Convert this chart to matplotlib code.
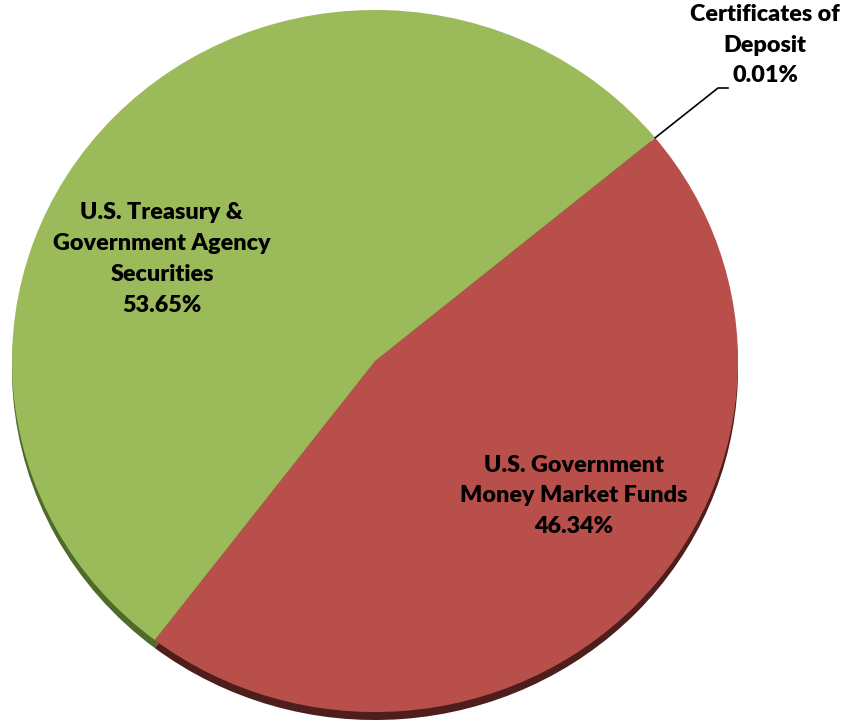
import numpy as np
import matplotlib.pyplot as plt

# portfolio mix
labels = ["Certificates of\nDeposit", "U.S. Government\nMoney Market Funds",
          "U.S. Treasury &\nGovernment Agency\nSecurities"]
values = [0.01, 46.34, 53.65]
colors = ["#9BBB59", "#B94F4B", "#9BBA5A"]
dark = ["#4F6B2A", "#4E1E1D", "#4F6B2A"]

plt.rcParams['font.family'] = ['Lato', 'DejaVu Sans']

fig = plt.figure(figsize=(8.44, 7.25), dpi=100)
ax = fig.add_axes([0, 0, 1, 1])

sy = 0.967          # slight tilt of the disc
cx, cy, r = 375, (725 - 361) / sy, 363
start = 39.5

# side of the disc (3d depth)
ax.pie(values, colors=dark, startangle=start, counterclock=False,
       center=(cx, cy - 8 / sy), radius=r, wedgeprops=dict(linewidth=0))
wedges, _ = ax.pie(values, colors=colors, startangle=start, counterclock=False,
                   center=(cx, cy), radius=r, wedgeprops=dict(linewidth=0))

ax.set_aspect('auto')
ax.set_xlim(0, 844)
ax.set_ylim(0, 725 / sy)
ax.axis('off')

def ypix(y):
    return (725 - y) / sy

fs = 16.8
kw = dict(ha='center', va='center', fontsize=fs, fontweight='heavy', linespacing=1.58)
# slice labels
ax.text(162, ypix(259), labels[2] + "\n%.2f%%" % values[2], **kw)
ax.text(574, ypix(496), labels[1] + "\n%.2f%%" % values[1], **kw)

# leader line for the tiny slice
w = wedges[0]
ang = np.deg2rad((w.theta1 + w.theta2) / 2)
px, py = cx + r * np.cos(ang), cy + r * np.sin(ang)
ax.plot([px, 718, 728], [py, ypix(88), ypix(88)], color='black', lw=1.2)
ax.text(765, ypix(45), labels[0] + "\n%.2f%%" % values[0], **kw)

fig.savefig("out.png", dpi=100)
